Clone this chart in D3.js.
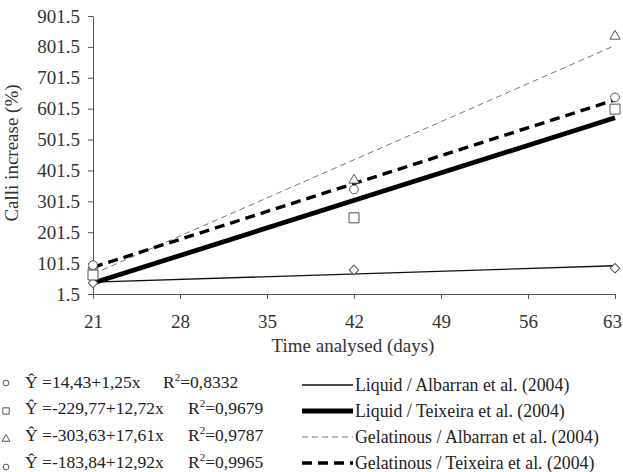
<!DOCTYPE html>
<html>
<head>
<meta charset="utf-8">
<script src="https://cdn.jsdelivr.net/npm/d3@7"></script>
<style>
  body { margin: 0; background: #fff; }
</style>
</head>
<body>
<svg id="chart" width="623" height="472" font-family="Liberation Serif"></svg>
<script>
// --- DATA ---
const days = [21, 42, 63];
const yTicks = [1.5, 101.5, 201.5, 301.5, 401.5, 501.5, 601.5, 701.5, 801.5, 901.5];
const xTicks = [21, 28, 35, 42, 49, 56, 63];

const liqAlbarran = [37, 79, 85];
const liqTeixeira = [63, 248, 600];
const gelAlbarran = [92, 370, 836];
const gelTeixeira = [95, 340, 638];

// fitted lines, values at day 21 and day 63
const fitLiqAlbarran = [40, 93];
const fitLiqTeixeira = [37, 572];
const fitGelAlbarran = [66, 806];
const fitGelTeixeira = [88, 630];

const equations = ["Ŷ =14,43+1,25x", "Ŷ =-229,77+12,72x", "Ŷ =-303,63+17,61x", "Ŷ =-183,84+12,92x"];
const r2 = ["0,8332", "0,9679", "0,9787", "0,9965"];
const lineNames = [
    "Liquid / Albarran et al. (2004)",
    "Liquid / Teixeira et al. (2004)",
    "Gelatinous / Albarran et al. (2004)",
    "Gelatinous / Teixeira et al. (2004)"
];

// diamond = square turned 45 degrees
const series = [
    { pts: liqAlbarran, fit: fitLiqAlbarran, symbol: d3.symbolSquare, rot: 45, size: 45, width: 1.3, dash: null, color: "#111" },
    { pts: liqTeixeira, fit: fitLiqTeixeira, symbol: d3.symbolSquare, rot: 0, size: 100, width: 4.8, dash: null, color: "#000" },
    { pts: gelAlbarran, fit: fitGelAlbarran, symbol: d3.symbolTriangle, rot: 0, size: 45, width: 1, dash: "6,4", color: "#777" },
    { pts: gelTeixeira, fit: fitGelTeixeira, symbol: d3.symbolCircle, rot: 0, size: 60, width: 3.4, dash: "10,6", color: "#000" }
];

const svg = d3.select("#chart");

const x = d3.scaleLinear().domain([21, 63]).range([93, 615]);
const y = d3.scaleLinear().domain([1.5, 901.5]).range([294, 16]);

// --- AXES ---
const yAxis = svg.append("g")
    .attr("transform", "translate(93,0)")
    .call(d3.axisLeft(y).tickValues(yTicks).tickFormat(d3.format(".1f")).tickSize(5).tickSizeOuter(0));
yAxis.selectAll("text").attr("font-size", 19).attr("fill", "#333").attr("x", -13);

const xAxis = svg.append("g")
    .attr("transform", "translate(0,294)")
    .call(d3.axisBottom(x).tickValues(xTicks).tickSize(5).tickSizeOuter(0));
xAxis.selectAll("text").attr("font-size", 19).attr("fill", "#333").attr("y", 21);
xAxis.selectAll(".tick:last-of-type text").attr("dx", -3);

svg.selectAll(".domain, .tick line").attr("stroke", "#555");

svg.append("text")
    .attr("x", 353).attr("y", 352)
    .attr("text-anchor", "middle")
    .attr("font-size", 19).attr("fill", "#333")
    .text("Time analysed (days)");

svg.append("text")
    .attr("transform", "translate(18,153) rotate(-90)")
    .attr("text-anchor", "middle")
    .attr("font-size", 19).attr("fill", "#333")
    .text("Calli increase (%)");

// --- FITTED LINES ---
const plot = svg.append("g");
series.forEach(s => {
    plot.append("line")
        .attr("x1", x(21)).attr("y1", y(s.fit[0]))
        .attr("x2", x(63)).attr("y2", y(s.fit[1]))
        .attr("stroke", s.color)
        .attr("stroke-width", s.width)
        .attr("stroke-dasharray", s.dash);
});

// --- MARKERS ---
series.forEach(s => {
    plot.append("g").selectAll("path")
        .data(s.pts.map((v, i) => ({ day: days[i], v })))
        .join("path")
        .attr("transform", d => `translate(${x(d.day)},${y(d.v)}) rotate(${s.rot})`)
        .attr("d", d3.symbol().type(s.symbol).size(s.size))
        .attr("fill", "#fff")
        .attr("stroke", "#555")
        .attr("stroke-width", 1);
});

// --- LEGEND ---
const eqBase = [388, 414, 441, 468];
const lineBase = [391, 417, 443, 469];
const markY = [383, 411, 439, 467];
const rX = [163, 188, 188, 188];

const eqLegend = svg.append("g");
series.forEach((s, i) => {
    eqLegend.append("path")
        .attr("transform", `translate(6,${markY[i]})`)
        .attr("d", d3.symbol().type(i === 0 ? d3.symbolCircle : s.symbol).size(i === 1 ? 40 : 26))
        .attr("fill", "#fff").attr("stroke", "#555");
    eqLegend.append("text")
        .attr("x", 25).attr("y", eqBase[i])
        .attr("font-size", 17.5).attr("fill", "#222")
        .text(equations[i]);
    const rt = eqLegend.append("text")
        .attr("x", rX[i]).attr("y", eqBase[i])
        .attr("font-size", 17.5).attr("fill", "#222");
    rt.append("tspan").text("R");
    rt.append("tspan").attr("font-size", 11).attr("dy", -7).text("2");
    rt.append("tspan").attr("dy", 7).text("=" + r2[i]);
});

const lineLegend = svg.append("g");
series.forEach((s, i) => {
    lineLegend.append("line")
        .attr("x1", 302).attr("x2", 353)
        .attr("y1", lineBase[i] - 6).attr("y2", lineBase[i] - 6)
        .attr("stroke", s.color)
        .attr("stroke-width", s.width)
        .attr("stroke-dasharray", s.dash);
    lineLegend.append("text")
        .attr("x", 355).attr("y", lineBase[i])
        .attr("font-size", 17.8).attr("fill", "#222")
        .text(lineNames[i]);
});

// serif everywhere (axis groups set their own sans-serif)
svg.selectAll("text").attr("font-family", "Liberation Serif");
</script>
</body>
</html>
